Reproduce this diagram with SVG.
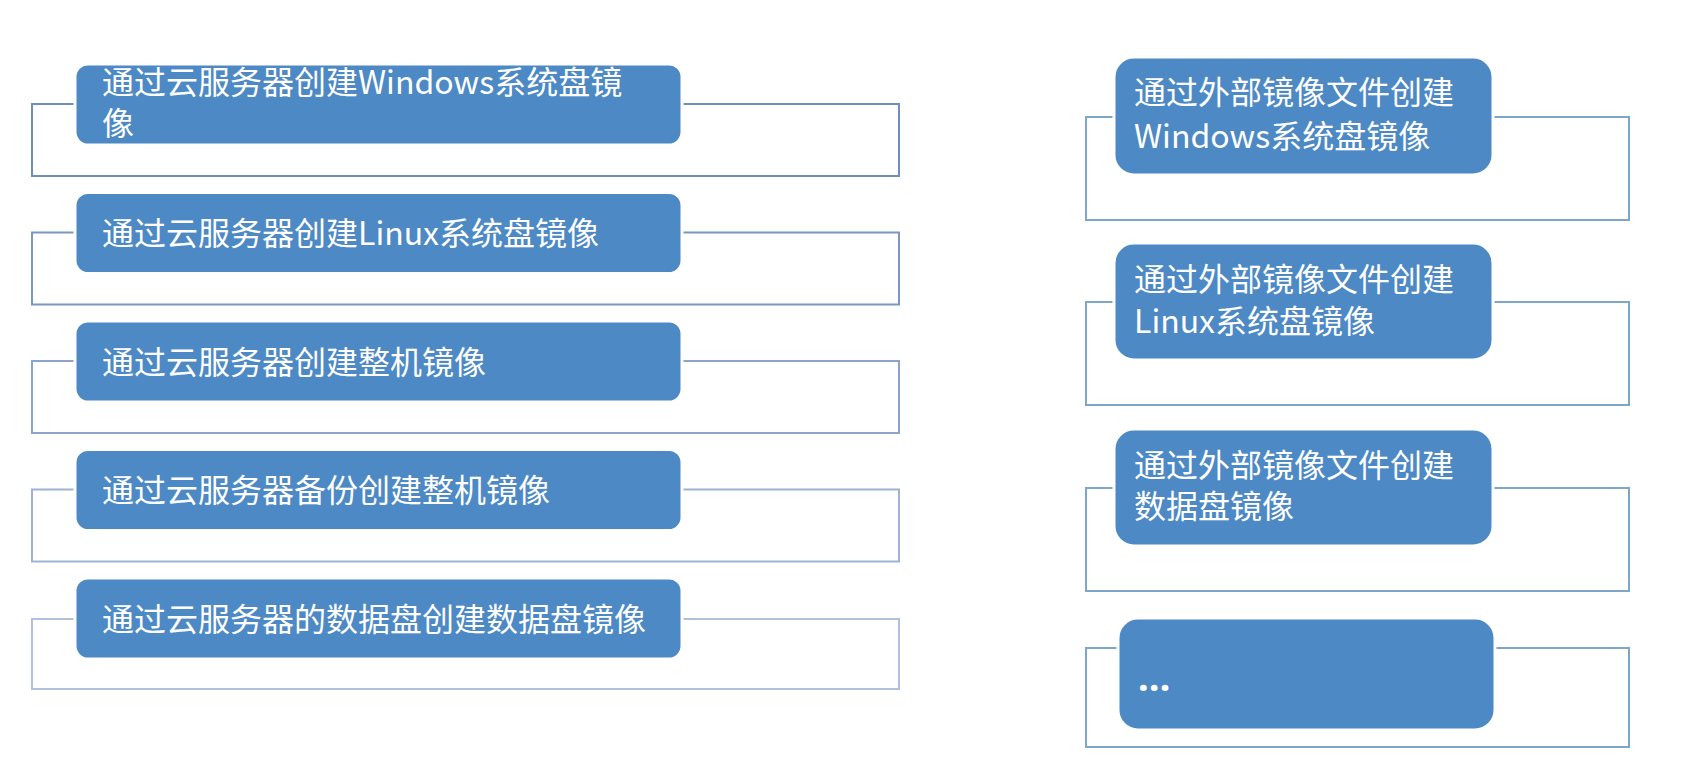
<svg xmlns="http://www.w3.org/2000/svg" width="1702" height="774" viewBox="0 0 1702 774">
<style>
.frame{fill:none;stroke-width:2}
.box{fill:#4d89c5;stroke:#ffffff;stroke-width:3}
.t{font-family:"Noto Sans CJK SC","Noto Sans",sans-serif;font-size:32px;fill:#ffffff}
</style>
<rect width="1702" height="774" fill="#ffffff"/>
<g id="connectors"></g>
<g id="n1">
<rect class="frame" x="32" y="104" width="867" height="72" stroke="#6f8fba"/>
<rect class="box" x="75" y="64" width="607" height="81" rx="13"/>
<text class="t" x="102" y="94">通过云服务器创建Windows系统盘镜<tspan x="102" dy="41">像</tspan></text>
</g>
<g id="n2">
<rect class="frame" x="32" y="232.5" width="867" height="72" stroke="#7b97c0"/>
<rect class="box" x="75" y="192.5" width="607" height="81" rx="13"/>
<text class="t" x="102" y="245">通过云服务器创建Linux系统盘镜像</text>
</g>
<g id="n3">
<rect class="frame" x="32" y="361" width="867" height="72" stroke="#8ca4c9"/>
<rect class="box" x="75" y="321" width="607" height="81" rx="13"/>
<text class="t" x="102" y="373.5">通过云服务器创建整机镜像</text>
</g>
<g id="n4">
<rect class="frame" x="32" y="489.5" width="867" height="72" stroke="#9fb2d3"/>
<rect class="box" x="75" y="449.5" width="607" height="81" rx="13"/>
<text class="t" x="102" y="502">通过云服务器备份创建整机镜像</text>
</g>
<g id="n5">
<rect class="frame" x="32" y="619" width="867" height="70" stroke="#b2c0dc"/>
<rect class="box" x="75" y="578" width="607" height="81" rx="13"/>
<text class="t" x="102" y="630.5">通过云服务器的数据盘创建数据盘镜像</text>
</g>
<g id="r1">
<rect class="frame" x="1086" y="117" width="543" height="103" stroke="#7ea6c9"/>
<rect class="box" x="1114" y="57" width="379" height="118" rx="20"/>
<text class="t" x="1134" y="104">通过外部镜像文件创建<tspan x="1134" dy="44">Windows系统盘镜像</tspan></text>
</g>
<g id="r2">
<rect class="frame" x="1086" y="302" width="543" height="103" stroke="#7ea6c9"/>
<rect class="box" x="1114" y="243" width="379" height="117" rx="20"/>
<text class="t" x="1134" y="291">通过外部镜像文件创建<tspan x="1134" dy="42">Linux系统盘镜像</tspan></text>
</g>
<g id="r3">
<rect class="frame" x="1086" y="488" width="543" height="103" stroke="#7ea6c9"/>
<rect class="box" x="1114" y="429" width="379" height="117" rx="20"/>
<text class="t" x="1134" y="477">通过外部镜像文件创建<tspan x="1134" dy="41">数据盘镜像</tspan></text>
</g>
<g id="r4">
<rect class="frame" x="1086" y="648" width="543" height="99" stroke="#7ea6c9"/>
<rect class="box" x="1118" y="618" width="377" height="112" rx="20"/>
<text class="t" x="1138" y="691" style="font-family:'Noto Sans',sans-serif;font-size:38px;font-weight:bold">…</text>
</g>
</svg>
